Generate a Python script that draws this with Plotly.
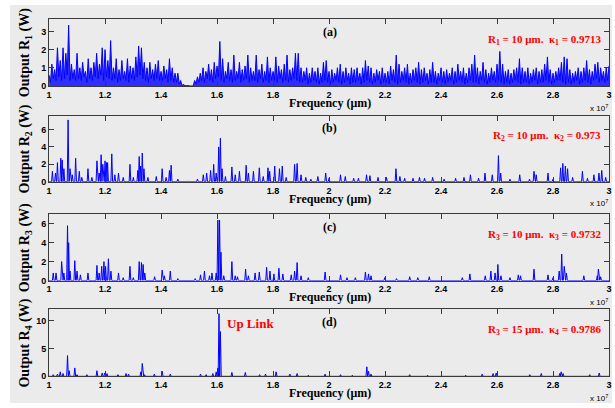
import numpy as np
import plotly.graph_objects as go

# ---------------- data (frequency in units of 1e7, output in W) ----------------
freq_start, freq_stop, freq_step = 1.0, 3.0, 0.01

r1_peaks = [
    0.6, 1.2, 0.9, 2.1, 1.4, 2.1, 1.8, 3.35, 1.2, 0.9,
    1.8, 1.0, 1.3, 0.8, 1.5, 1.0, 1.3, 1.8, 1.2, 2.1,
    2.0, 1.4, 2.5, 1.0, 1.5, 0.9, 1.4, 0.8, 1.5, 1.1,
    1.0, 1.6, 2.2, 2.1, 1.3, 1.0, 1.3, 0.9, 1.2, 1.4,
    0.8, 1.1, 0.9, 1.5, 1.0, 0.7, 0.7, 0.3, 0.1, 0.02,
    0.0, 0.0, 0.3, 0.5, 0.7, 1.0, 0.8, 1.2, 0.9, 1.3,
    1.1, 2.45, 1.5, 0.8, 1.3, 0.9, 1.7, 0.8, 1.3, 0.9,
    1.1, 1.7, 1.0, 0.8, 1.7, 0.9, 1.2, 0.8, 1.6, 1.0,
    0.8, 1.6, 1.1, 0.9, 1.2, 1.7, 0.9, 1.0, 1.8, 1.8,
    1.0, 0.8, 1.0, 0.7, 1.0, 0.8, 1.0, 0.7, 1.3, 1.4,
    0.8, 0.9, 0.7, 1.0, 1.2, 0.8, 1.0, 0.7, 1.0, 0.9,
    1.0, 0.7, 1.0, 1.4, 1.1, 1.0, 0.7, 0.9, 0.8, 1.0,
    0.7, 0.8, 1.1, 0.9, 1.7, 1.2, 0.8, 1.0, 1.2, 0.7,
    0.9, 1.0, 1.3, 0.9, 1.0, 0.7, 0.9, 1.3, 0.8, 0.7,
    1.0, 0.8, 0.9, 0.7, 1.0, 0.8, 1.2, 0.8, 1.0, 0.7,
    1.0, 1.2, 1.7, 1.0, 0.8, 1.3, 0.9, 0.7, 1.0, 0.8,
    1.2, 1.9, 1.2, 0.8, 0.9, 0.7, 0.9, 1.0, 1.5, 1.0,
    0.8, 1.0, 0.7, 0.9, 1.0, 0.8, 0.9, 1.2, 1.6, 0.9,
    0.7, 0.8, 1.0, 1.3, 1.6, 1.5, 0.9, 0.7, 0.8, 1.0,
    0.8, 1.0, 1.4, 0.9, 0.8, 1.2, 1.3, 1.0, 0.8, 1.0,
    1.1,
]
r1_troughs = [
    0.2, 0.4, 0.3, 0.5, 0.3, 0.4, 0.6, 0.3, 0.4, 0.3,
    0.4, 0.3, 0.5, 0.2, 0.4, 0.3, 0.5, 0.4, 0.6, 0.3,
    0.5, 0.4, 0.3, 0.4, 0.2, 0.3, 0.4, 0.3, 0.2, 0.4,
    0.3, 0.5, 0.6, 0.4, 0.3, 0.2, 0.4, 0.3, 0.4, 0.3,
    0.3, 0.4, 0.2, 0.3, 0.2, 0.2, 0.1, 0.0, 0.0, 0.0,
    0.0, 0.0, 0.1, 0.2, 0.3, 0.2, 0.4, 0.3, 0.2, 0.4,
    0.5, 0.3, 0.2, 0.4, 0.3, 0.2, 0.3, 0.4, 0.2, 0.3,
    0.4, 0.2, 0.3, 0.3, 0.2, 0.4, 0.2, 0.3, 0.2, 0.3,
    0.3, 0.2, 0.4, 0.2, 0.3, 0.2, 0.3, 0.4, 0.3, 0.2,
    0.2, 0.3, 0.1, 0.2, 0.3, 0.2, 0.1, 0.2, 0.3, 0.2,
    0.1, 0.2, 0.3, 0.2, 0.1, 0.2, 0.3, 0.1, 0.2, 0.2,
    0.3, 0.1, 0.2, 0.3, 0.2, 0.1, 0.2, 0.3, 0.1, 0.2,
    0.2, 0.1, 0.3, 0.2, 0.1, 0.2, 0.3, 0.2, 0.1, 0.2,
    0.3, 0.2, 0.1, 0.2, 0.3, 0.1, 0.2, 0.2, 0.1, 0.3,
    0.2, 0.1, 0.2, 0.3, 0.1, 0.2, 0.3, 0.2, 0.1, 0.2,
    0.3, 0.2, 0.2, 0.1, 0.3, 0.2, 0.1, 0.2, 0.3, 0.2,
    0.3, 0.2, 0.1, 0.2, 0.1, 0.2, 0.3, 0.2, 0.1, 0.2,
    0.2, 0.1, 0.2, 0.3, 0.1, 0.2, 0.2, 0.3, 0.2, 0.1,
    0.2, 0.3, 0.3, 0.2, 0.1, 0.2, 0.1, 0.2, 0.3, 0.1,
    0.2, 0.3, 0.2, 0.1, 0.3, 0.4, 0.2, 0.3, 0.2, 0.3,
]

r2_freq = [1.012, 1.023, 1.030, 1.042, 1.047, 1.053, 1.068, 1.075, 1.083, 1.095, 1.108, 1.117,
           1.139, 1.153, 1.171, 1.179, 1.186, 1.192, 1.200, 1.205, 1.209, 1.224, 1.235, 1.248,
           1.265, 1.289, 1.301, 1.317, 1.322, 1.327, 1.333, 1.339, 1.353, 1.383, 1.404, 1.418,
           1.430, 1.436, 1.460, 1.495, 1.530, 1.551, 1.563, 1.577, 1.588, 1.597, 1.606, 1.612,
           1.618, 1.630, 1.653, 1.665, 1.680, 1.704, 1.712, 1.730, 1.751, 1.765, 1.782, 1.788,
           1.806, 1.823, 1.833, 1.847, 1.877, 1.886, 1.900, 1.917, 1.935, 1.960, 1.988, 2.000,
           2.041, 2.058, 2.088, 2.105, 2.134, 2.146, 2.175, 2.205, 2.239, 2.253, 2.270, 2.300,
           2.323, 2.341, 2.370, 2.411, 2.452, 2.482, 2.505, 2.534, 2.557, 2.583, 2.605, 2.613,
           2.646, 2.681, 2.716, 2.732, 2.740, 2.782, 2.800, 2.827, 2.835, 2.844, 2.852, 2.870,
           2.905, 2.923, 2.946, 2.964, 2.974, 2.988]
r2_power = [1.2, 1.0, 2.2, 2.7, 2.5, 1.5, 7.1, 1.5, 0.8, 2.7, 1.2, 0.5,
            1.5, 0.5, 2.4, 1.0, 3.1, 2.0, 2.4, 2.2, 2.2, 3.2, 0.8, 1.0,
            0.5, 2.0, 0.5, 1.3, 2.9, 1.8, 3.3, 1.5, 0.5, 0.6, 1.5, 0.5,
            1.3, 1.9, 0.3, 0.1, 0.3, 0.8, 1.0, 1.3, 2.0, 1.0, 4.0, 5.0,
            1.5, 0.6, 1.7, 0.8, 1.2, 1.9, 1.0, 1.2, 1.6, 0.6, 1.6, 1.2,
            1.8, 1.5, 1.8, 0.5, 2.0, 2.1, 0.8, 0.5, 0.3, 0.6, 1.0, 0.4,
            0.8, 0.6, 0.4, 0.4, 0.8, 0.7, 0.5, 0.5, 1.5, 0.6, 0.4, 0.4,
            0.5, 0.4, 0.5, 0.3, 0.4, 0.5, 0.8, 0.4, 1.0, 0.8, 3.0, 1.0,
            0.3, 0.8, 0.3, 1.2, 0.8, 1.0, 0.3, 1.6, 2.1, 1.8, 1.5, 0.5,
            1.2, 0.4, 0.8, 1.0, 1.3, 0.5]

r3_freq = [1.015, 1.025, 1.045, 1.053, 1.066, 1.070, 1.075, 1.092, 1.100, 1.112,
           1.139, 1.171, 1.179, 1.188, 1.196, 1.202, 1.212, 1.221, 1.248, 1.265,
           1.289, 1.301, 1.322, 1.330, 1.336, 1.342, 1.377, 1.404, 1.412, 1.433,
           1.460, 1.522, 1.541, 1.555, 1.573, 1.582, 1.597, 1.603, 1.609, 1.614,
           1.624, 1.653, 1.665, 1.673, 1.702, 1.712, 1.736, 1.751, 1.777, 1.789,
           1.803, 1.821, 1.835, 1.865, 1.877, 1.886, 1.900,
           1.926, 1.986, 2.041, 2.064, 2.094, 2.130, 2.141, 2.150, 2.199, 2.241,
           2.288, 2.317, 2.358, 2.476, 2.503, 2.558, 2.578, 2.593, 2.603, 2.614,
           2.646, 2.676, 2.684, 2.732, 2.782, 2.800, 2.822, 2.831, 2.840, 2.848,
           2.910, 2.958, 2.962, 2.970]
r3_power = [0.8, 0.8, 2.0, 0.8, 5.8, 4.0, 1.0, 2.1, 1.0, 0.6,
            0.8, 1.6, 0.8, 1.5, 2.0, 1.5, 2.3, 1.0, 0.8, 0.3,
            1.5, 0.3, 2.0, 1.9, 1.7, 0.8, 0.4, 1.1, 0.5, 1.0,
            0.2, 0.2, 0.6, 1.0, 0.5, 0.8, 0.8, 6.4, 6.4, 3.0,
            0.5, 2.0, 0.5, 0.4, 1.2, 0.5, 0.8, 0.9, 1.4, 1.0,
            0.7, 1.3, 0.7, 0.6, 1.0, 1.9, 0.5,
            0.3, 0.9, 0.6, 0.3, 0.3, 0.9, 0.7, 0.5, 0.3, 0.2,
            0.4, 0.3, 0.4, 0.3, 0.7, 0.5, 1.0, 0.8, 1.7, 0.5,
            0.3, 0.6, 0.5, 1.2, 0.6, 0.3, 1.0, 2.8, 1.5, 0.8,
            0.5, 0.5, 1.2, 0.4]

r4_freq = [1.015, 1.030, 1.040, 1.050, 1.066, 1.072, 1.092, 1.100, 1.135, 1.171,
           1.190, 1.199, 1.207, 1.246, 1.275, 1.284, 1.328, 1.333, 1.341, 1.376,
           1.404, 1.433, 1.541, 1.561, 1.585, 1.597, 1.603, 1.607, 1.612, 1.653,
           1.701, 1.752, 1.773, 1.811, 1.860, 1.886,
           1.926, 1.986, 2.041, 2.083, 2.135, 2.141, 2.150, 2.288, 2.352, 2.488,
           2.547, 2.586, 2.597, 2.717, 2.758, 2.824, 2.829, 2.836, 2.931, 2.965]
r4_power = [0.3, 0.4, 0.8, 0.5, 3.7, 1.0, 1.5, 0.3, 0.3, 1.0,
            0.6, 0.6, 0.5, 0.3, 0.5, 0.4, 0.8, 2.3, 0.3, 0.4,
            0.9, 0.4, 0.4, 0.3, 0.5, 0.8, 1.5, 11.2, 8.0, 0.7,
            0.7, 0.3, 0.4, 0.8, 0.4, 0.5,
            0.2, 0.4, 0.3, 0.2, 1.7, 0.9, 0.4, 0.3, 0.2, 0.2,
            0.4, 0.5, 0.6, 0.3, 0.5, 0.5, 0.8, 0.5, 0.3, 0.6]

x_ticks = [1, 1.2, 1.4, 1.6, 1.8, 2, 2.2, 2.4, 2.6, 2.8, 3]
x_tick_labels = ["1", "1.2", "1.4", "1.6", "1.8", "2", "2.2", "2.4", "2.6", "2.8", "3"]

panel_letters = ["(a)", "(b)", "(c)", "(d)"]
ring_labels = [
    "R<sub>1</sub> = 10 μm.  κ<sub>1</sub> = 0.9713",
    "R<sub>2</sub> = 10 μm.  κ<sub>2</sub> = 0.973",
    "R<sub>3</sub> = 10 μm.  κ<sub>3</sub> = 0.9732",
    "R<sub>3</sub> = 15 μm.  κ<sub>4</sub> = 0.9786",
]
y_titles = ["Output R<sub>1</sub> (W)", "Output R<sub>2</sub> (W)",
            "Output R<sub>3</sub> (W)", "Output R<sub>4</sub> (W)"]
y_ranges = [[0, 3.7], [0, 7.6], [0, 7.0], [0, 12]]
y_dticks = [1, 2, 2, 5]

# ---------------- build traces ----------------
W, H = 615, 408
BG = "#ebebeb"
BLUE = "#0000ff"

# panel a: dense oscillation between peak and trough samples
grid = np.round(np.arange(freq_start, freq_stop + freq_step / 2, freq_step), 4)
xa, ya = [], []
for i in range(len(grid)):
    xa.append(grid[i]); ya.append(r1_peaks[i])
    if i < len(r1_troughs):
        xa.append(grid[i] + freq_step / 2); ya.append(r1_troughs[i])


def spikes(freqs, powers, hw=0.003):
    xs, ys = [freq_start], [0.0]
    for f, p in sorted(zip(freqs, powers)):
        xs += [f - hw, f, f + hw]
        ys += [0.0, p, 0.0]
    xs.append(freq_stop); ys.append(0.0)
    return xs, ys


series = [(xa, ya), spikes(r2_freq, r2_power), spikes(r3_freq, r3_power), spikes(r4_freq, r4_power)]

fig = go.Figure()

# panel pixel geometry (top, bottom) in px from top
panels_px = [(19, 87), (117, 184), (217, 284), (313, 381)]
x_left_px, x_right_px = 46.5, 612


def py(v):
    return 1 - v / H


def px(v):
    return v / W


layout_axes = {}
annotations = []
for k, ((top, bot), (xs, ys)) in enumerate(zip(panels_px, series)):
    n = "" if k == 0 else str(k + 1)
    extra = dict(fill="tozeroy", fillcolor="rgba(0,0,255,0.8)") if k == 0 else {}
    fig.add_trace(go.Scatter(x=xs, y=ys, mode="lines",
                             line=dict(color=BLUE, width=1),
                             xaxis="x" + n, yaxis="y" + n, showlegend=False,
                             hoverinfo="skip", **extra))
    axis_common = dict(showline=True, linecolor="#3a3a3a", linewidth=1, mirror="ticks",
                       ticks="inside", ticklen=5, tickcolor="#3a3a3a", showgrid=False,
                       zeroline=False,
                       tickfont=dict(family="Liberation Sans", size=9, color="black", weight="bold"))
    layout_axes["xaxis" + n] = dict(axis_common, domain=[px(x_left_px), px(x_right_px)],
                                    range=[1, 3], tickvals=x_ticks, ticktext=x_tick_labels,
                                    anchor="y" + n)
    layout_axes["yaxis" + n] = dict(axis_common, domain=[py(bot), py(top)],
                                    range=y_ranges[k], dtick=y_dticks[k], tick0=0,
                                    anchor="x" + n)
    mid = (top + bot) / 2
    annotations.append(dict(text=y_titles[k], x=px(23), y=py(mid), xref="paper", yref="paper",
                            textangle=-90, showarrow=False, xanchor="center", yanchor="middle",
                            font=dict(family="Liberation Serif", size=14, color="black", weight="bold")))
    annotations.append(dict(text="Frequency (μm)", x=px(330), y=py(bot + 17), xref="paper", yref="paper",
                            showarrow=False, xanchor="center", yanchor="middle",
                            font=dict(family="Liberation Serif", size=12, color="black", weight="bold")))
    annotations.append(dict(text="x 10<sup>7</sup>", x=px(613), y=py(bot + 22), xref="paper", yref="paper",
                            showarrow=False, xanchor="right", yanchor="middle",
                            font=dict(family="Liberation Sans", size=8, color="black")))
    annotations.append(dict(text=panel_letters[k], x=px(330), y=py(top + 13), xref="paper", yref="paper",
                            showarrow=False, xanchor="center", yanchor="middle",
                            font=dict(family="Liberation Serif", size=12, color="black", weight="bold")))
    annotations.append(dict(text=ring_labels[k], x=px(606), y=py(top + 21), xref="paper", yref="paper",
                            showarrow=False, xanchor="right", yanchor="middle",
                            font=dict(family="Liberation Serif", size=11, color="#ff0000", weight="bold")))

annotations.append(dict(text="Up Link", x=px(250), y=py(328), xref="paper", yref="paper",
                        showarrow=False, xanchor="center", yanchor="middle",
                        font=dict(family="Liberation Serif", size=13, color="#ff0000", weight="bold")))

fig.update_layout(
    width=W, height=H, margin=dict(l=0, r=0, t=0, b=0),
    paper_bgcolor="white", plot_bgcolor=BG,
    annotations=annotations,
    shapes=[dict(type="rect", xref="paper", yref="paper", x0=px(7), x1=1, y0=0, y1=py(5),
                 fillcolor=BG, line=dict(width=0), layer="below")],
    **layout_axes,
)

fig.write_html("out.html", config={"displayModeBar": False},
               post_script="document.body.style.margin='0';document.body.style.overflow='hidden';")
